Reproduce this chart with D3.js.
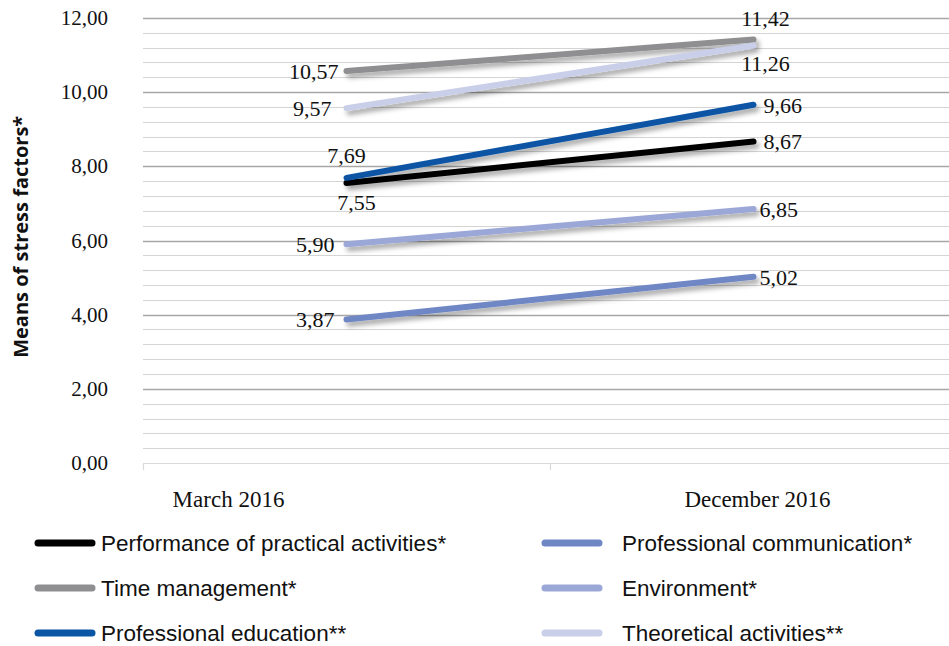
<!DOCTYPE html>
<html>
<head>
<meta charset="utf-8">
<script src="https://cdn.jsdelivr.net/npm/d3@7"></script>
<style>
  body { margin: 0; background: #fff; }
  svg { display: block; }
  .num { font-family: "Liberation Serif", serif; font-size: 22px; fill: #111; }
  .tick { font-size: 21px; }
  .cat { font-size: 23px; }
  .leg { font-family: "Liberation Sans", sans-serif; font-size: 22.5px; fill: #111; }
</style>
</head>
<body>
<div id="chart"></div>
<script>
var periods = ["March 2016", "December 2016"];
var series_names = [
    "Performance of practical activities*", "Time management*", "Professional education**",
    "Professional communication*", "Environment*", "Theoretical activities**"
];
var march_values = [7.55, 10.57, 7.69, 3.87, 5.90, 9.57];
var december_values = [8.67, 11.42, 9.66, 5.02, 6.85, 11.26];
var series_colors = ["#000000", "#8f8f91", "#0a55a4", "#6f87c5", "#9aa7d7", "#c9cee9"];
var y_ticks = [0, 2, 4, 6, 8, 10, 12];

// where each label sits relative to its point: [dx, dy, anchor]
var start_label_pos = [[10, 27, "middle"], [-8, 8, "end"], [0, -15, "middle"], [-12, 8, "end"], [-12, 8, "end"], [-15, 8, "end"]];
var end_label_pos = [[10, 8, "start"], [12, -14, "middle"], [10, 8, "start"], [6, 8, "start"], [6, 8, "start"], [12, 26, "middle"]];

var width = 949, height = 646;
var margin = {top: 18, left: 143, bottom: 183};

var svg = d3.select("#chart").append("svg")
    .attr("width", width)
    .attr("height", height);

var defs = svg.append("defs");
var shadow = defs.append("filter").attr("id", "shadow")
    .attr("x", "-10%").attr("y", "-50%").attr("width", "120%").attr("height", "200%");
shadow.append("feDropShadow")
    .attr("dx", 3).attr("dy", 4).attr("stdDeviation", 2.5)
    .attr("flood-color", "#000").attr("flood-opacity", 0.35);

var x = d3.scaleBand().domain(periods).range([margin.left, 957]);
var y = d3.scaleLinear().domain([0, 12]).range([height - margin.bottom, margin.top]);

// gridlines, minor every 0.4 and major every 2
var minor = d3.range(0, 12.01, 0.4);
svg.append("g").selectAll("line")
    .data(minor)
    .enter()
    .append("line")
        .attr("x1", margin.left)
        .attr("x2", width)
        .attr("y1", function(d) { return Math.round(y(d)) + 0.5; })
        .attr("y2", function(d) { return Math.round(y(d)) + 0.5; })
        .style("stroke", function(d) {
            if (Math.abs(d) < 0.01) return "#d9d9d9";
            return Math.abs(d / 2 - Math.round(d / 2)) < 0.01 ? "#a6a6a6" : "#d4d4d4";
        })
        .style("stroke-width", function(d) {
            return Math.abs(d / 2 - Math.round(d / 2)) < 0.01 && d > 0 ? 1.6 : 1.2;
        });

// category ticks on x axis
var tick_x = [x.range()[0], x.range()[0] + x.bandwidth()];
svg.append("g").selectAll("line")
    .data(tick_x)
    .enter()
    .append("line")
        .attr("x1", function(d) { return d + 0.5; })
        .attr("x2", function(d) { return d + 0.5; })
        .attr("y1", y(0))
        .attr("y2", y(0) + 7)
        .style("stroke", "#d9d9d9")
        .style("stroke-width", 1.2);

// y tick labels
svg.append("g").selectAll("text")
    .data(y_ticks)
    .enter()
    .append("text")
        .attr("class", "num tick")
        .attr("x", 108)
        .attr("y", function(d) { return y(d) + 7; })
        .attr("text-anchor", "end")
        .text(function(d) { return d.toFixed(2).replace(".", ","); });

// x labels (Excel put the first one left of its band centre)
var x_label_dx = [-118, 4];
svg.append("g").selectAll("text")
    .data(periods)
    .enter()
    .append("text")
        .attr("class", "num cat")
        .attr("x", function(d, i) { return x(d) + x.bandwidth() / 2 + x_label_dx[i]; })
        .attr("y", 507)
        .attr("text-anchor", "middle")
        .text(function(d) { return d; });

// y axis title
svg.append("text")
    .attr("transform", "translate(28," + y(6.1) + ") rotate(-90)")
    .attr("text-anchor", "middle")
    .style("font-family", "'Open Sans', 'Liberation Sans', sans-serif")
    .style("font-weight", "bold")
    .style("font-size", "20px")
    .style("fill", "#111")
    .text("Means of stress factors*");

// lines
var rows = series_names.map(function(name, i) {
    return {name: name, color: series_colors[i], values: [march_values[i], december_values[i]]};
});
var cx = function(p) { return x(p) + x.bandwidth() / 2; };

var line = d3.line()
    .x(function(d, i) { return cx(periods[i]); })
    .y(function(d) { return y(d); });

var draw_order = [4, 3, 0, 2, 1, 5];
svg.append("g").selectAll("path")
    .data(draw_order.map(function(i) { return rows[i]; }))
    .enter()
    .append("path")
        .attr("d", function(d) { return line(d.values); })
        .attr("filter", "url(#shadow)")
        .style("fill", "none")
        .style("stroke", function(d) { return d.color; })
        .style("stroke-width", 6)
        .style("stroke-linecap", "round");

// data labels
var labels = [];
rows.forEach(function(r, i) {
    labels.push({v: r.values[0], p: periods[0], pos: start_label_pos[i]});
    labels.push({v: r.values[1], p: periods[1], pos: end_label_pos[i]});
});
svg.append("g").selectAll("text")
    .data(labels)
    .enter()
    .append("text")
        .attr("class", "num")
        .attr("x", function(d) { return cx(d.p) + d.pos[0]; })
        .attr("y", function(d) { return y(d.v) + d.pos[1]; })
        .attr("text-anchor", function(d) { return d.pos[2]; })
        .text(function(d) { return d.v.toFixed(2).replace(".", ","); });

// legend
var legend = svg.append("g").selectAll("g")
    .data(rows)
    .enter()
    .append("g")
        .attr("transform", function(d, i) {
            var col = Math.floor(i / 3), row = i % 3;
            return "translate(" + (col === 0 ? 38 : 545) + "," + (543 + row * 45) + ")";
        });
legend.append("line")
    .attr("x1", 0).attr("x2", 54)
    .attr("y1", 0).attr("y2", 0)
    .style("stroke", function(d) { return d.color; })
    .style("stroke-width", 7)
    .style("stroke-linecap", "round");
legend.append("text")
    .attr("class", "leg")
    .attr("x", function(d, i) { return i < 3 ? 63 : 77; })
    .attr("y", 8)
    .text(function(d) { return d.name; });
</script>
</body>
</html>
